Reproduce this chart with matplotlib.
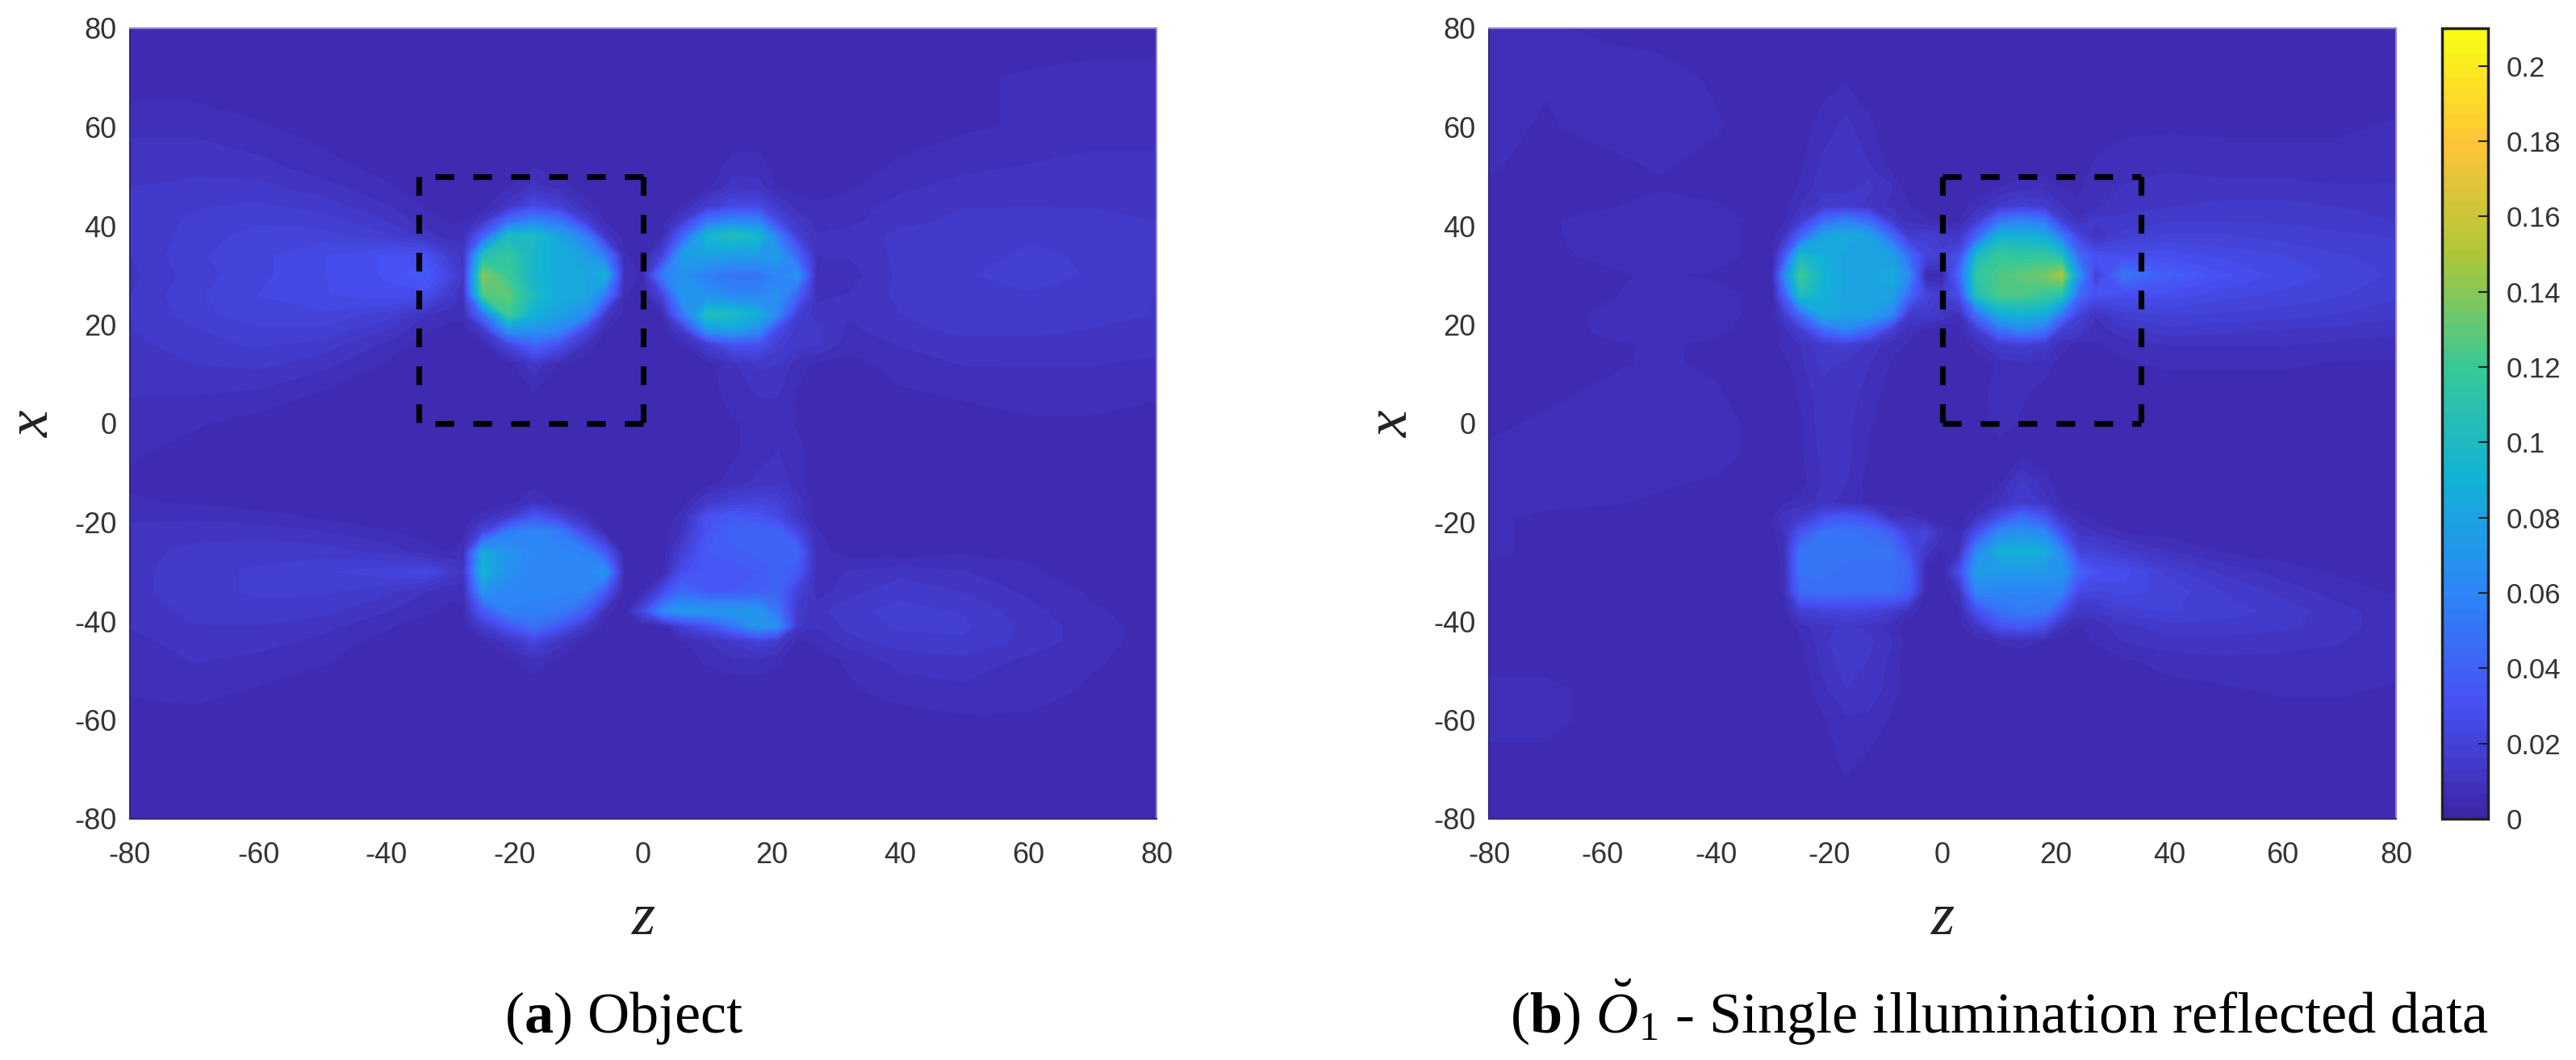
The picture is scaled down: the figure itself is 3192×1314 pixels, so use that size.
import numpy as np
import matplotlib
matplotlib.use('Agg')
from matplotlib import pyplot as plt
from matplotlib import cm
from matplotlib.colors import LinearSegmentedColormap, Normalize

plt.rcParams['font.family'] = 'Liberation Sans'
plt.rcParams['axes.unicode_minus'] = False
plt.rcParams['mathtext.fontset'] = 'custom'
plt.rcParams['mathtext.rm'] = 'Liberation Serif'
plt.rcParams['mathtext.it'] = 'Liberation Serif:italic'
plt.rcParams['mathtext.bf'] = 'Liberation Serif:bold'

# grid of the two maps, finer around the four blobs
z_values = [-80, -70, -60, -50, -40, -34, -30, -28, -25, -21, -17, -13, -9, -6, -3,
            0, 3, 6, 10, 14, 18, 21, 24, 27, 32, 40, 50, 60, 70, 80]
x_values = [80, 70, 60, 52, 48, 44, 41, 38, 34, 30, 26, 22, 19, 16, 12, 6, 0, -6, -12,
            -16, -19, -22, -26, -30, -34, -38, -41, -44, -48, -54, -60, -70, -80]

# values, in thousandths
object_map = [
    [4, 4, 4, 4, 4, 4, 4, 4, 4, 4, 4, 4, 4, 4, 4, 4, 4, 4, 4, 4, 4, 4, 4, 4, 4, 4, 4, 4, 4, 4],
    [4, 4, 4, 4, 4, 4, 4, 4, 4, 4, 4, 4, 4, 4, 4, 4, 4, 4, 4, 4, 4, 4, 4, 4, 4, 5, 6, 7, 8, 8],
    [9, 9, 7, 5, 4, 4, 4, 4, 4, 4, 4, 4, 4, 4, 4, 4, 4, 4, 4, 4, 4, 4, 4, 4, 4, 5, 6, 7, 8, 8],
    [12, 12, 11, 8, 5, 4, 4, 4, 4, 4, 6, 5, 4, 4, 4, 4, 4, 4, 4, 8, 8, 5, 5, 5, 5, 7, 9, 10, 11, 11],
    [13, 14, 14, 11, 7, 5, 4, 4, 4, 6, 11, 8, 4, 4, 4, 4, 4, 4, 5, 12, 11, 6, 5, 5, 6, 9, 11, 12, 12, 12],
    [14, 16, 17, 15, 10, 6, 5, 5, 5, 12, 25, 18, 8, 5, 4, 4, 4, 6, 16, 24, 24, 14, 8, 7, 8, 11, 13, 13, 13, 13],
    [14, 17, 19, 18, 13, 8, 6, 6, 12, 45, 60, 50, 18, 6, 4, 4, 5, 15, 50, 62, 58, 25, 12, 9, 9, 12, 14, 15, 14, 13],
    [13, 18, 21, 21, 17, 11, 8, 9, 38, 100, 100, 80, 55, 12, 5, 4, 6, 38, 95, 105, 95, 55, 18, 10, 11, 14, 15, 16, 15, 14],
    [13, 19, 22, 26, 30, 30, 16, 12, 105, 115, 95, 85, 78, 55, 7, 5, 20, 75, 80, 75, 75, 75, 42, 10, 10, 14, 15, 17, 16, 14],
    [12, 18, 22, 26, 30, 36, 22, 13, 140, 120, 95, 85, 82, 90, 8, 6, 55, 70, 55, 50, 50, 60, 70, 8, 8, 14, 16, 18, 16, 14],
    [13, 19, 23, 26, 28, 28, 14, 10, 125, 130, 100, 85, 82, 55, 7, 5, 20, 72, 68, 60, 60, 68, 40, 9, 10, 14, 15, 16, 15, 13],
    [13, 18, 22, 22, 18, 10, 8, 8, 45, 120, 90, 78, 65, 14, 5, 5, 6, 48, 105, 100, 88, 60, 18, 11, 10, 13, 15, 16, 14, 13],
    [13, 16, 19, 19, 13, 7, 5, 5, 15, 70, 70, 62, 25, 7, 4, 4, 5, 15, 70, 80, 65, 25, 14, 14, 9, 12, 14, 14, 13, 12],
    [12, 15, 17, 15, 9, 5, 4, 4, 5, 22, 42, 28, 10, 4, 4, 4, 4, 6, 16, 32, 30, 18, 14, 14, 8, 10, 12, 12, 12, 11],
    [11, 13, 14, 11, 6, 4, 4, 4, 4, 5, 12, 6, 4, 4, 4, 4, 4, 4, 5, 9, 14, 13, 8, 6, 5, 8, 10, 10, 10, 9],
    [10, 10, 9, 6, 4, 4, 4, 4, 4, 4, 6, 4, 4, 4, 4, 4, 4, 4, 4, 9, 10, 10, 6, 4, 4, 6, 7, 8, 8, 7],
    [8, 7, 5, 4, 4, 4, 4, 4, 4, 4, 4, 4, 4, 4, 4, 4, 4, 4, 4, 6, 8, 9, 6, 4, 4, 4, 5, 6, 6, 5],
    [7, 5, 4, 4, 4, 4, 4, 4, 4, 4, 4, 4, 4, 4, 4, 4, 4, 4, 4, 6, 8, 10, 8, 4, 4, 4, 4, 5, 5, 5],
    [6, 4, 4, 4, 4, 4, 4, 4, 4, 4, 5, 4, 4, 4, 4, 4, 4, 4, 5, 8, 11, 12, 8, 4, 4, 4, 4, 4, 4, 4],
    [7, 6, 5, 4, 4, 4, 4, 4, 4, 5, 10, 5, 4, 4, 4, 4, 4, 5, 14, 20, 22, 20, 12, 4, 4, 4, 4, 4, 4, 4],
    [9, 9, 8, 6, 4, 4, 4, 5, 8, 15, 35, 22, 8, 4, 4, 4, 4, 8, 30, 36, 32, 25, 12, 5, 4, 4, 4, 4, 4, 4],
    [11, 12, 12, 10, 7, 5, 5, 6, 22, 55, 62, 55, 25, 6, 4, 4, 4, 10, 32, 42, 42, 42, 25, 7, 4, 4, 5, 5, 4, 4],
    [12, 14, 15, 15, 12, 8, 6, 8, 85, 70, 62, 60, 58, 35, 4, 4, 4, 18, 36, 38, 40, 42, 42, 8, 5, 4, 6, 6, 5, 4],
    [12, 15, 17, 19, 22, 24, 16, 12, 92, 68, 60, 60, 62, 72, 5, 4, 4, 28, 34, 34, 36, 40, 35, 8, 10, 12, 10, 7, 5, 4],
    [12, 15, 17, 17, 14, 10, 7, 8, 70, 62, 60, 60, 60, 35, 4, 6, 25, 45, 36, 36, 38, 42, 20, 8, 12, 15, 13, 9, 6, 4],
    [11, 14, 15, 14, 10, 7, 6, 6, 35, 58, 58, 55, 38, 8, 4, 25, 62, 72, 72, 72, 72, 50, 14, 12, 15, 18, 16, 11, 7, 5],
    [10, 13, 13, 11, 7, 5, 4, 5, 16, 32, 48, 32, 14, 5, 4, 4, 5, 18, 30, 50, 72, 65, 14, 10, 14, 17, 17, 12, 8, 5],
    [9, 11, 11, 9, 5, 4, 4, 4, 6, 12, 22, 12, 5, 4, 4, 4, 4, 6, 10, 14, 20, 14, 6, 7, 12, 15, 16, 12, 8, 5],
    [8, 10, 9, 7, 4, 4, 4, 4, 4, 5, 9, 5, 4, 4, 4, 4, 4, 5, 7, 9, 9, 7, 5, 5, 7, 11, 12, 9, 7, 5],
    [7, 8, 6, 4, 4, 4, 4, 4, 4, 4, 4, 4, 4, 4, 4, 4, 4, 4, 4, 4, 4, 4, 4, 4, 6, 8, 9, 8, 6, 5],
    [5, 5, 4, 4, 4, 4, 4, 4, 4, 4, 4, 4, 4, 4, 4, 4, 4, 4, 4, 4, 4, 4, 4, 4, 4, 5, 6, 6, 5, 4],
    [4, 4, 4, 4, 4, 4, 4, 4, 4, 4, 4, 4, 4, 4, 4, 4, 4, 4, 4, 4, 4, 4, 4, 4, 4, 4, 4, 4, 4, 4],
    [4, 4, 4, 4, 4, 4, 4, 4, 4, 4, 4, 4, 4, 4, 4, 4, 4, 4, 4, 4, 4, 4, 4, 4, 4, 4, 4, 4, 4, 4],
]

reflected_map = [
    [7, 7, 6, 5, 5, 4, 4, 4, 4, 4, 4, 4, 4, 4, 4, 4, 4, 4, 4, 4, 4, 4, 4, 4, 4, 4, 4, 4, 4, 4],
    [8, 7, 8, 8, 6, 5, 4, 4, 4, 5, 6, 5, 4, 4, 4, 4, 4, 4, 4, 4, 4, 4, 4, 4, 5, 5, 5, 5, 4, 4],
    [8, 6, 8, 8, 7, 5, 4, 4, 5, 8, 11, 7, 5, 4, 4, 4, 4, 4, 4, 4, 4, 4, 5, 5, 6, 6, 6, 6, 6, 7],
    [7, 5, 5, 7, 5, 4, 4, 4, 6, 11, 12, 10, 5, 4, 4, 4, 4, 4, 4, 5, 5, 5, 5, 7, 8, 9, 8, 8, 8, 9],
    [6, 5, 5, 6, 5, 4, 4, 5, 7, 12, 11, 14, 10, 4, 4, 4, 4, 4, 6, 8, 8, 6, 6, 8, 10, 12, 11, 11, 10, 10],
    [6, 6, 6, 8, 7, 5, 4, 5, 10, 15, 16, 12, 9, 7, 4, 4, 5, 8, 14, 18, 16, 10, 7, 9, 12, 13, 14, 14, 13, 11],
    [6, 6, 8, 9, 9, 6, 4, 6, 15, 45, 58, 45, 15, 9, 7, 5, 6, 16, 50, 60, 50, 18, 10, 14, 14, 16, 16, 16, 15, 13],
    [5, 6, 8, 9, 8, 6, 5, 10, 40, 80, 85, 80, 45, 15, 18, 14, 12, 40, 90, 90, 85, 52, 22, 9, 18, 20, 20, 18, 17, 16],
    [5, 6, 7, 8, 8, 6, 5, 30, 100, 88, 80, 80, 78, 45, 22, 18, 28, 98, 118, 115, 115, 105, 45, 30, 28, 28, 25, 23, 20, 18],
    [4, 5, 6, 7, 6, 5, 4, 60, 120, 92, 80, 80, 85, 65, 6, 4, 45, 115, 125, 130, 135, 150, 70, 18, 50, 38, 30, 25, 22, 19],
    [4, 5, 6, 8, 8, 6, 5, 35, 105, 90, 80, 80, 80, 45, 22, 16, 28, 105, 125, 125, 118, 110, 45, 30, 28, 28, 24, 22, 20, 17],
    [4, 5, 7, 9, 8, 6, 5, 15, 45, 85, 80, 78, 60, 14, 16, 12, 8, 45, 85, 90, 85, 50, 20, 10, 18, 20, 19, 18, 16, 14],
    [4, 5, 7, 8, 7, 6, 4, 8, 18, 45, 60, 45, 18, 8, 6, 4, 5, 16, 48, 62, 50, 18, 14, 8, 12, 15, 14, 13, 12, 11],
    [4, 5, 6, 7, 6, 5, 4, 8, 10, 16, 18, 12, 8, 6, 4, 4, 4, 8, 16, 18, 15, 8, 5, 6, 8, 10, 10, 10, 9, 8],
    [4, 5, 6, 7, 6, 4, 4, 5, 9, 14, 12, 10, 6, 4, 4, 4, 4, 4, 7, 9, 8, 5, 4, 5, 6, 7, 7, 7, 6, 6],
    [5, 6, 7, 8, 7, 5, 4, 4, 7, 12, 12, 8, 5, 4, 4, 4, 4, 4, 9, 7, 5, 4, 4, 4, 4, 5, 5, 5, 5, 5],
    [6, 7, 8, 9, 8, 6, 4, 4, 6, 12, 11, 7, 4, 4, 4, 4, 4, 4, 8, 6, 5, 4, 4, 4, 4, 4, 4, 4, 4, 4],
    [7, 8, 9, 9, 8, 6, 4, 4, 6, 11, 11, 6, 4, 4, 4, 4, 4, 4, 5, 5, 4, 4, 4, 4, 4, 4, 4, 4, 4, 4],
    [7, 8, 8, 7, 6, 4, 4, 4, 5, 10, 10, 5, 4, 4, 4, 4, 4, 5, 6, 14, 8, 5, 4, 4, 4, 4, 4, 4, 4, 4],
    [7, 7, 7, 6, 4, 4, 4, 6, 8, 11, 8, 6, 5, 4, 4, 4, 4, 5, 10, 16, 12, 5, 4, 4, 4, 4, 4, 4, 4, 4],
    [7, 6, 5, 4, 4, 4, 6, 12, 14, 28, 35, 28, 10, 10, 5, 4, 5, 10, 28, 45, 32, 12, 8, 5, 4, 4, 4, 4, 4, 4],
    [7, 6, 5, 4, 4, 4, 5, 10, 32, 50, 50, 48, 38, 18, 22, 10, 6, 28, 62, 68, 62, 30, 12, 10, 6, 5, 5, 4, 4, 4],
    [7, 6, 5, 4, 4, 4, 5, 8, 50, 52, 50, 50, 50, 30, 12, 5, 10, 62, 88, 90, 88, 62, 22, 20, 15, 10, 6, 5, 5, 4],
    [6, 5, 4, 4, 4, 4, 4, 7, 50, 50, 48, 48, 48, 42, 5, 4, 28, 75, 72, 72, 72, 72, 42, 30, 28, 18, 12, 8, 6, 5],
    [6, 5, 4, 4, 4, 4, 4, 7, 45, 48, 46, 46, 46, 38, 6, 4, 10, 60, 60, 60, 60, 58, 25, 22, 24, 22, 16, 12, 8, 6],
    [6, 6, 5, 4, 4, 4, 4, 5, 18, 20, 22, 20, 16, 8, 5, 4, 6, 28, 48, 55, 52, 28, 12, 12, 18, 20, 18, 15, 11, 8],
    [6, 6, 5, 4, 4, 4, 4, 4, 8, 12, 14, 12, 8, 4, 4, 4, 5, 12, 30, 35, 28, 10, 6, 8, 12, 15, 15, 14, 11, 8],
    [6, 6, 5, 4, 4, 4, 4, 4, 6, 12, 16, 14, 10, 5, 4, 4, 4, 5, 7, 8, 6, 5, 5, 7, 10, 12, 12, 11, 10, 8],
    [6, 6, 5, 4, 4, 4, 4, 4, 5, 11, 15, 13, 9, 4, 4, 4, 4, 4, 4, 4, 4, 4, 4, 4, 6, 8, 9, 9, 9, 8],
    [7, 7, 6, 5, 4, 4, 4, 4, 4, 9, 13, 12, 8, 4, 4, 4, 4, 4, 4, 4, 4, 4, 4, 4, 4, 5, 6, 7, 7, 6],
    [7, 7, 6, 5, 4, 4, 4, 4, 4, 6, 9, 9, 6, 4, 4, 4, 4, 4, 4, 4, 4, 4, 4, 4, 4, 4, 4, 5, 5, 5],
    [6, 6, 5, 4, 4, 4, 4, 4, 4, 5, 7, 5, 4, 4, 4, 4, 4, 4, 4, 4, 4, 4, 4, 4, 4, 4, 4, 4, 4, 4],
    [5, 5, 4, 4, 4, 4, 4, 4, 4, 4, 4, 4, 4, 4, 4, 4, 4, 4, 4, 4, 4, 4, 4, 4, 4, 4, 4, 4, 4, 4],
]

axis_ticks = [-80, -60, -40, -20, 0, 20, 40, 60, 80]
colorbar_ticks = [0, 0.02, 0.04, 0.06, 0.08, 0.1, 0.12, 0.14, 0.16, 0.18, 0.2]
color_max = 0.21

# dashed box edges; order sets where the dash pattern starts
box_left_z = [0, -35]
box_right_z = [0, 35]
box_x = [50, 0]

parula_colors = [(0.2422, 0.1504, 0.6603), (0.2810, 0.3228, 0.9579), (0.1786, 0.5289, 0.9682),
                 (0.0689, 0.6948, 0.8394), (0.2161, 0.7843, 0.5923), (0.6720, 0.7793, 0.2227),
                 (0.9970, 0.7659, 0.2199), (0.9769, 0.9839, 0.0805)]
parula = LinearSegmentedColormap.from_list('parula', parula_colors, N=64)
norm = Normalize(0, color_max)

W, H = 3192, 1314
fig = plt.figure(figsize=(W / 100, H / 100), dpi=100)


def px_axes(left, right, top, bottom):
    return fig.add_axes([left / W, 1 - bottom / H, (right - left) / W, (bottom - top) / H])


def draw_map(ax, values, box_z):
    z = np.array(z_values)
    x = np.array(x_values)
    c = np.array(values) / 1000.0
    ax.contourf(z, x, c, levels=np.linspace(0, color_max, 65), cmap=parula, norm=norm, antialiased=False)
    ax.set_xlim(-80, 80)
    ax.set_ylim(-80, 80)
    ax.set_xticks(axis_ticks)
    ax.set_yticks(axis_ticks)
    ax.tick_params(length=0, labelsize=26, labelcolor='#333333')
    ax.tick_params(axis='x', pad=20)
    ax.tick_params(axis='y', pad=12)
    for name in ['left', 'bottom']:
        ax.spines[name].set_color('#2f2a80')
        ax.spines[name].set_linewidth(1.5)
    for name in ['top', 'right']:
        ax.spines[name].set_color('#8f88cf')
        ax.spines[name].set_linewidth(1.5)
    # dashed box round the blob that is being looked at
    box_style = dict(color='black', linewidth=5.2, linestyle=(0, (3.2, 3.3)))
    ax.plot(box_z, [box_x[0], box_x[0]], **box_style)
    ax.plot(box_z, [box_x[1], box_x[1]], **box_style)
    ax.plot([box_z[0], box_z[0]], box_x, **box_style)
    ax.plot([box_z[1], box_z[1]], box_x, **box_style)


ax1 = px_axes(161, 1433, 35, 1015)
draw_map(ax1, object_map, box_left_z)
ax2 = px_axes(1845, 2969, 35, 1015)
draw_map(ax2, reflected_map, box_right_z)

cax = px_axes(3026, 3083, 35, 1015)
cbar = fig.colorbar(cm.ScalarMappable(norm=norm, cmap=parula), cax=cax)
cbar.set_ticks(colorbar_ticks)
cbar.set_ticklabels(['%g' % t for t in colorbar_ticks])
cbar.ax.tick_params(direction='in', length=9, width=1.5, labelsize=25, labelcolor='#333333', pad=16, color='#222222')
cbar.outline.set_edgecolor('#222222')
cbar.outline.set_linewidth(2.5)

label_font = {'family': 'Liberation Serif', 'style': 'italic', 'size': 54, 'color': '#222222',
              'ha': 'center', 'va': 'center'}
fig.text(797 / W, 1 - 1140 / H, 'z', **label_font)
fig.text(2407 / W, 1 - 1140 / H, 'z', **label_font)
fig.text(42 / W, 1 - 525 / H, 'x', rotation=90, **label_font)
fig.text(1726 / W, 1 - 525 / H, 'x', rotation=90, **label_font)

caption_font = {'family': 'Liberation Serif', 'size': 52, 'color': 'black', 'ha': 'left', 'va': 'baseline'}
fig.text(625 / W, 1 - 1280 / H, r'($\mathbf{a}$) Object', **caption_font)
fig.text(1871 / W, 1 - 1280 / H, r'($\mathbf{b}$) $\breve{O}_1$ - Single illumination reflected data', **caption_font)

fig.savefig('out.png', dpi=100)
